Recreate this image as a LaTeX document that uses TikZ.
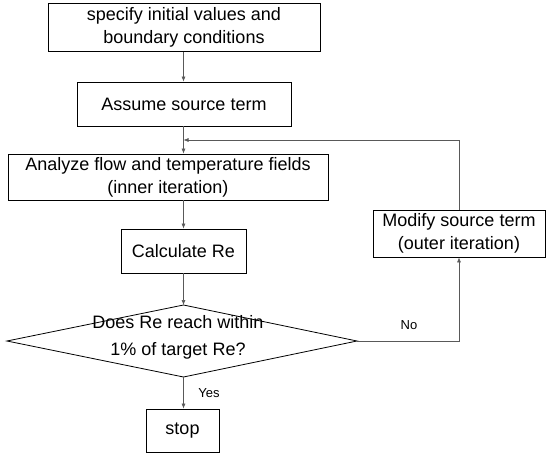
\documentclass[tikz,border=0pt]{standalone}
\usepackage{fontspec}
\setmainfont{Liberation Sans}
\usetikzlibrary{arrows.meta}
\begin{document}
\begin{tikzpicture}[x=1pt,y=-1pt,
  stepbox/.style={draw=black,line width=0.8pt,inner sep=0pt,align=center,
    font=\fontsize{18}{23}\selectfont},
  conn/.style={draw=black!65,line width=0.6pt},
  arr/.style={conn,-{Latex[length=5pt,width=4pt]}},
  lbl/.style={inner sep=0pt,font=\fontsize{13}{15}\selectfont}]
\useasboundingbox (0,0) rectangle (546,453);
\node[stepbox,minimum width=272pt,minimum height=48pt] (b1) at (184,27.5)
  {specify initial values and\\boundary conditions};
\node[stepbox,minimum width=214pt,minimum height=44pt] (b2) at (184,104)
  {Assume source term};
\node[stepbox,minimum width=320pt,minimum height=46pt] (b3) at (168,177)
  {Analyze flow and temperature fields\\(inner iteration)};
\node[stepbox,minimum width=125pt,minimum height=44pt] (b4) at (183.5,251)
  {Calculate Re};
\node[stepbox,minimum width=172pt,minimum height=47pt] (m) at (459,233.5)
  {Modify source term\\(outer iteration)};
\node[stepbox,minimum width=73pt,minimum height=43pt] (s) at (182.5,430.5)
  {stop};
\coordinate (dT) at (183.5,305);
\coordinate (dB) at (183.5,377);
\coordinate (dL) at (7,341);
\coordinate (dR) at (357,341);
\draw[line width=0.8pt,line join=miter] (dT) -- (dR) -- (dB) -- (dL) -- cycle;
\node[inner sep=0pt,align=center,font=\fontsize{18}{27}\selectfont] (d) at (178,337)
  {Does Re reach within\\1\% of target Re?};
\coordinate (j) at (183.5,140);
\draw[arr] (b1.south -| j) -- (b2.north -| j);
\draw[arr] (b2.south -| j) -- (b3.north -| j);
\draw[arr] (m.north) |- (j);
\draw[arr] (b3.south -| j) -- (b4.north -| j);
\draw[arr] (b4.south -| dT) -- (dT);
\draw[arr] (dR) -| (m.south);
\draw[arr] (dB) -- (s.north -| dB);
\node[lbl] (no) at (409,325) {No};
\node[lbl] (yes) at (209,393) {Yes};
\end{tikzpicture}
\end{document}
